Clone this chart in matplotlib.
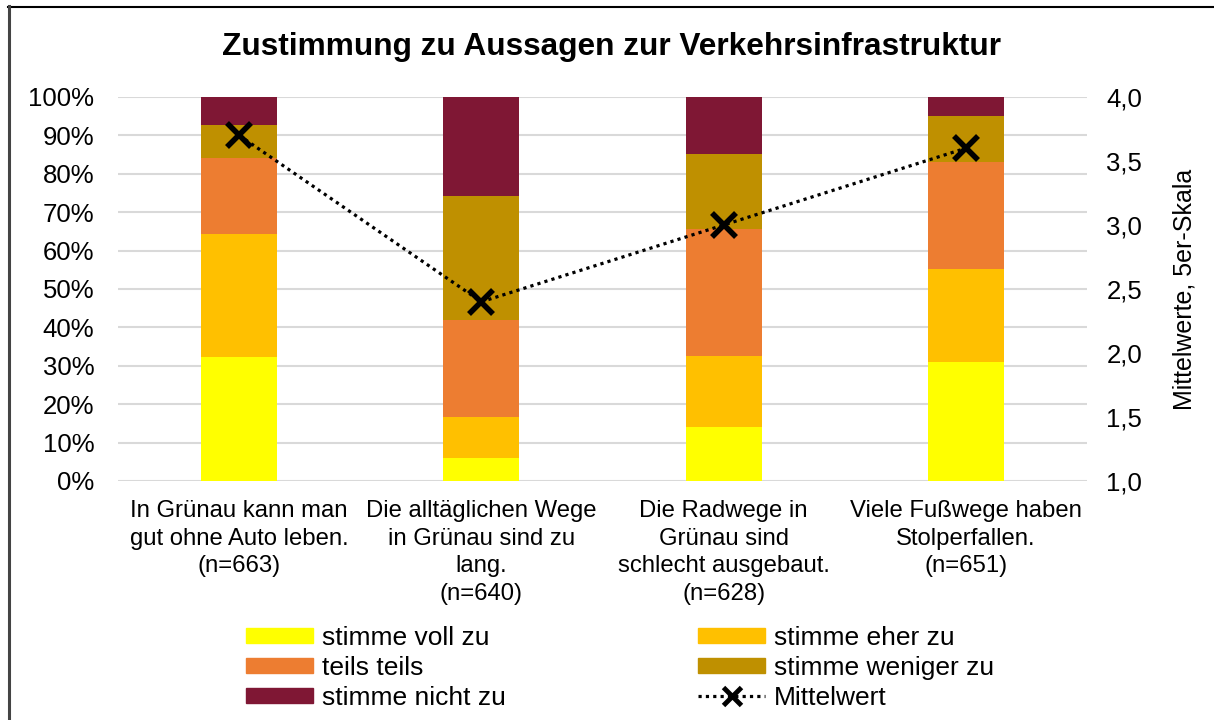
import matplotlib.pyplot as plt
from matplotlib.patches import Patch
from matplotlib.lines import Line2D
import numpy as np

plt.rcParams['font.family'] = ['Liberation Sans', 'DejaVu Sans']

categories = [
    'In Grünau kann man\ngut ohne Auto leben.\n(n=663)',
    'Die alltäglichen Wege\nin Grünau sind zu\nlang.\n(n=640)',
    'Die Radwege in\nGrünau sind\nschlecht ausgebaut.\n(n=628)',
    'Viele Fußwege haben\nStolperfallen.\n(n=651)',
]

# Anteile in Prozent je Antwortkategorie
voll_zu = [32.4, 5.9, 14.0, 31.0]
eher_zu = [31.9, 10.7, 18.6, 24.2]
teils_teils = [19.7, 25.3, 32.9, 27.8]
weniger_zu = [8.8, 32.3, 19.6, 12.0]
nicht_zu = [7.2, 25.8, 14.9, 5.0]

mittelwert = [3.7, 2.4, 3.0, 3.6]

labels = ['stimme voll zu', 'stimme eher zu', 'teils teils',
          'stimme weniger zu', 'stimme nicht zu']
farben = ['#FFFF00', '#FFC000', '#ED7D31', '#BF9000', '#7F1734']

fig = plt.figure(figsize=(12.14, 7.2), dpi=100)
ax = fig.add_axes([118 / 1214, 1 - 481 / 720, 969 / 1214, 384 / 720])

x = np.arange(len(categories))
bottom = np.zeros(len(categories))
for werte, farbe in zip([voll_zu, eher_zu, teils_teils, weniger_zu, nicht_zu], farben):
    ax.bar(x, werte, width=0.314, bottom=bottom, color=farbe, zorder=2)
    bottom += np.array(werte)

ax.set_xlim(-0.5, len(categories) - 0.5)
ax.set_ylim(0, 100)
ax.set_yticks(np.arange(0, 101, 10))
ax.set_yticklabels([f'{v}%' for v in range(0, 101, 10)], fontsize=18.5)
ax.set_xticks(x)
ax.set_xticklabels(categories, fontsize=17.2, linespacing=1.32)
ax.tick_params(axis='y', length=0, pad=17)
ax.tick_params(axis='x', length=0, pad=14)
ax.grid(axis='y', color='#D9D9D9', linewidth=1.5, zorder=0)
for s in ax.spines.values():
    s.set_visible(False)

ax2 = ax.twinx()
ax2.plot(x, mittelwert, color='black', linestyle=(0, (1, 1.3)), linewidth=2.3,
         marker='x', markersize=17, markeredgewidth=4, zorder=5)
ax2.set_ylim(1, 4)
ax2.set_yticks(np.arange(1, 4.01, 0.5))
ax2.set_yticklabels([f'{v:.1f}'.replace('.', ',') for v in np.arange(1, 4.01, 0.5)],
                    fontsize=18.5)
ax2.tick_params(length=0, pad=14)
ax2.set_ylabel('Mittelwerte, 5er-Skala', fontsize=18, labelpad=22)
for s in ax2.spines.values():
    s.set_visible(False)

fig.text(611 / 1214, 1 - 47 / 720, 'Zustimmung zu Aussagen zur Verkehrsinfrastruktur',
         ha='center', va='center', fontsize=22.8, fontweight='bold')

handles = [Patch(color=c) for c in farben]
mw_handle = Line2D([], [], color='black', linestyle=(0, (1, 1.3)), linewidth=2.3,
                   marker='x', markersize=13, markeredgewidth=3.5)
order = [0, 2, 4, 1, 3]
leg_handles = [handles[i] for i in order] + [mw_handle]
leg_labels = [labels[i] for i in order] + ['Mittelwert']
fig.legend(leg_handles, leg_labels, loc='center', ncol=2,
           bbox_to_anchor=(620 / 1214, 1 - 668 / 720), frameon=False,
           fontsize=19, handlelength=2.55, handleheight=0.5, handletextpad=0.33,
           labelspacing=0.22, columnspacing=7.3, borderpad=0)

# Rahmen oben und links
fig.add_artist(Line2D([8 / 1214, 1], [1 - 6.5 / 720] * 2, transform=fig.transFigure,
                      color='black', linewidth=1.5))
fig.add_artist(Line2D([8.5 / 1214] * 2, [0, 1 - 6 / 720], transform=fig.transFigure,
                      color='#444444', linewidth=2.2))

fig.savefig('out.png', dpi=100)
